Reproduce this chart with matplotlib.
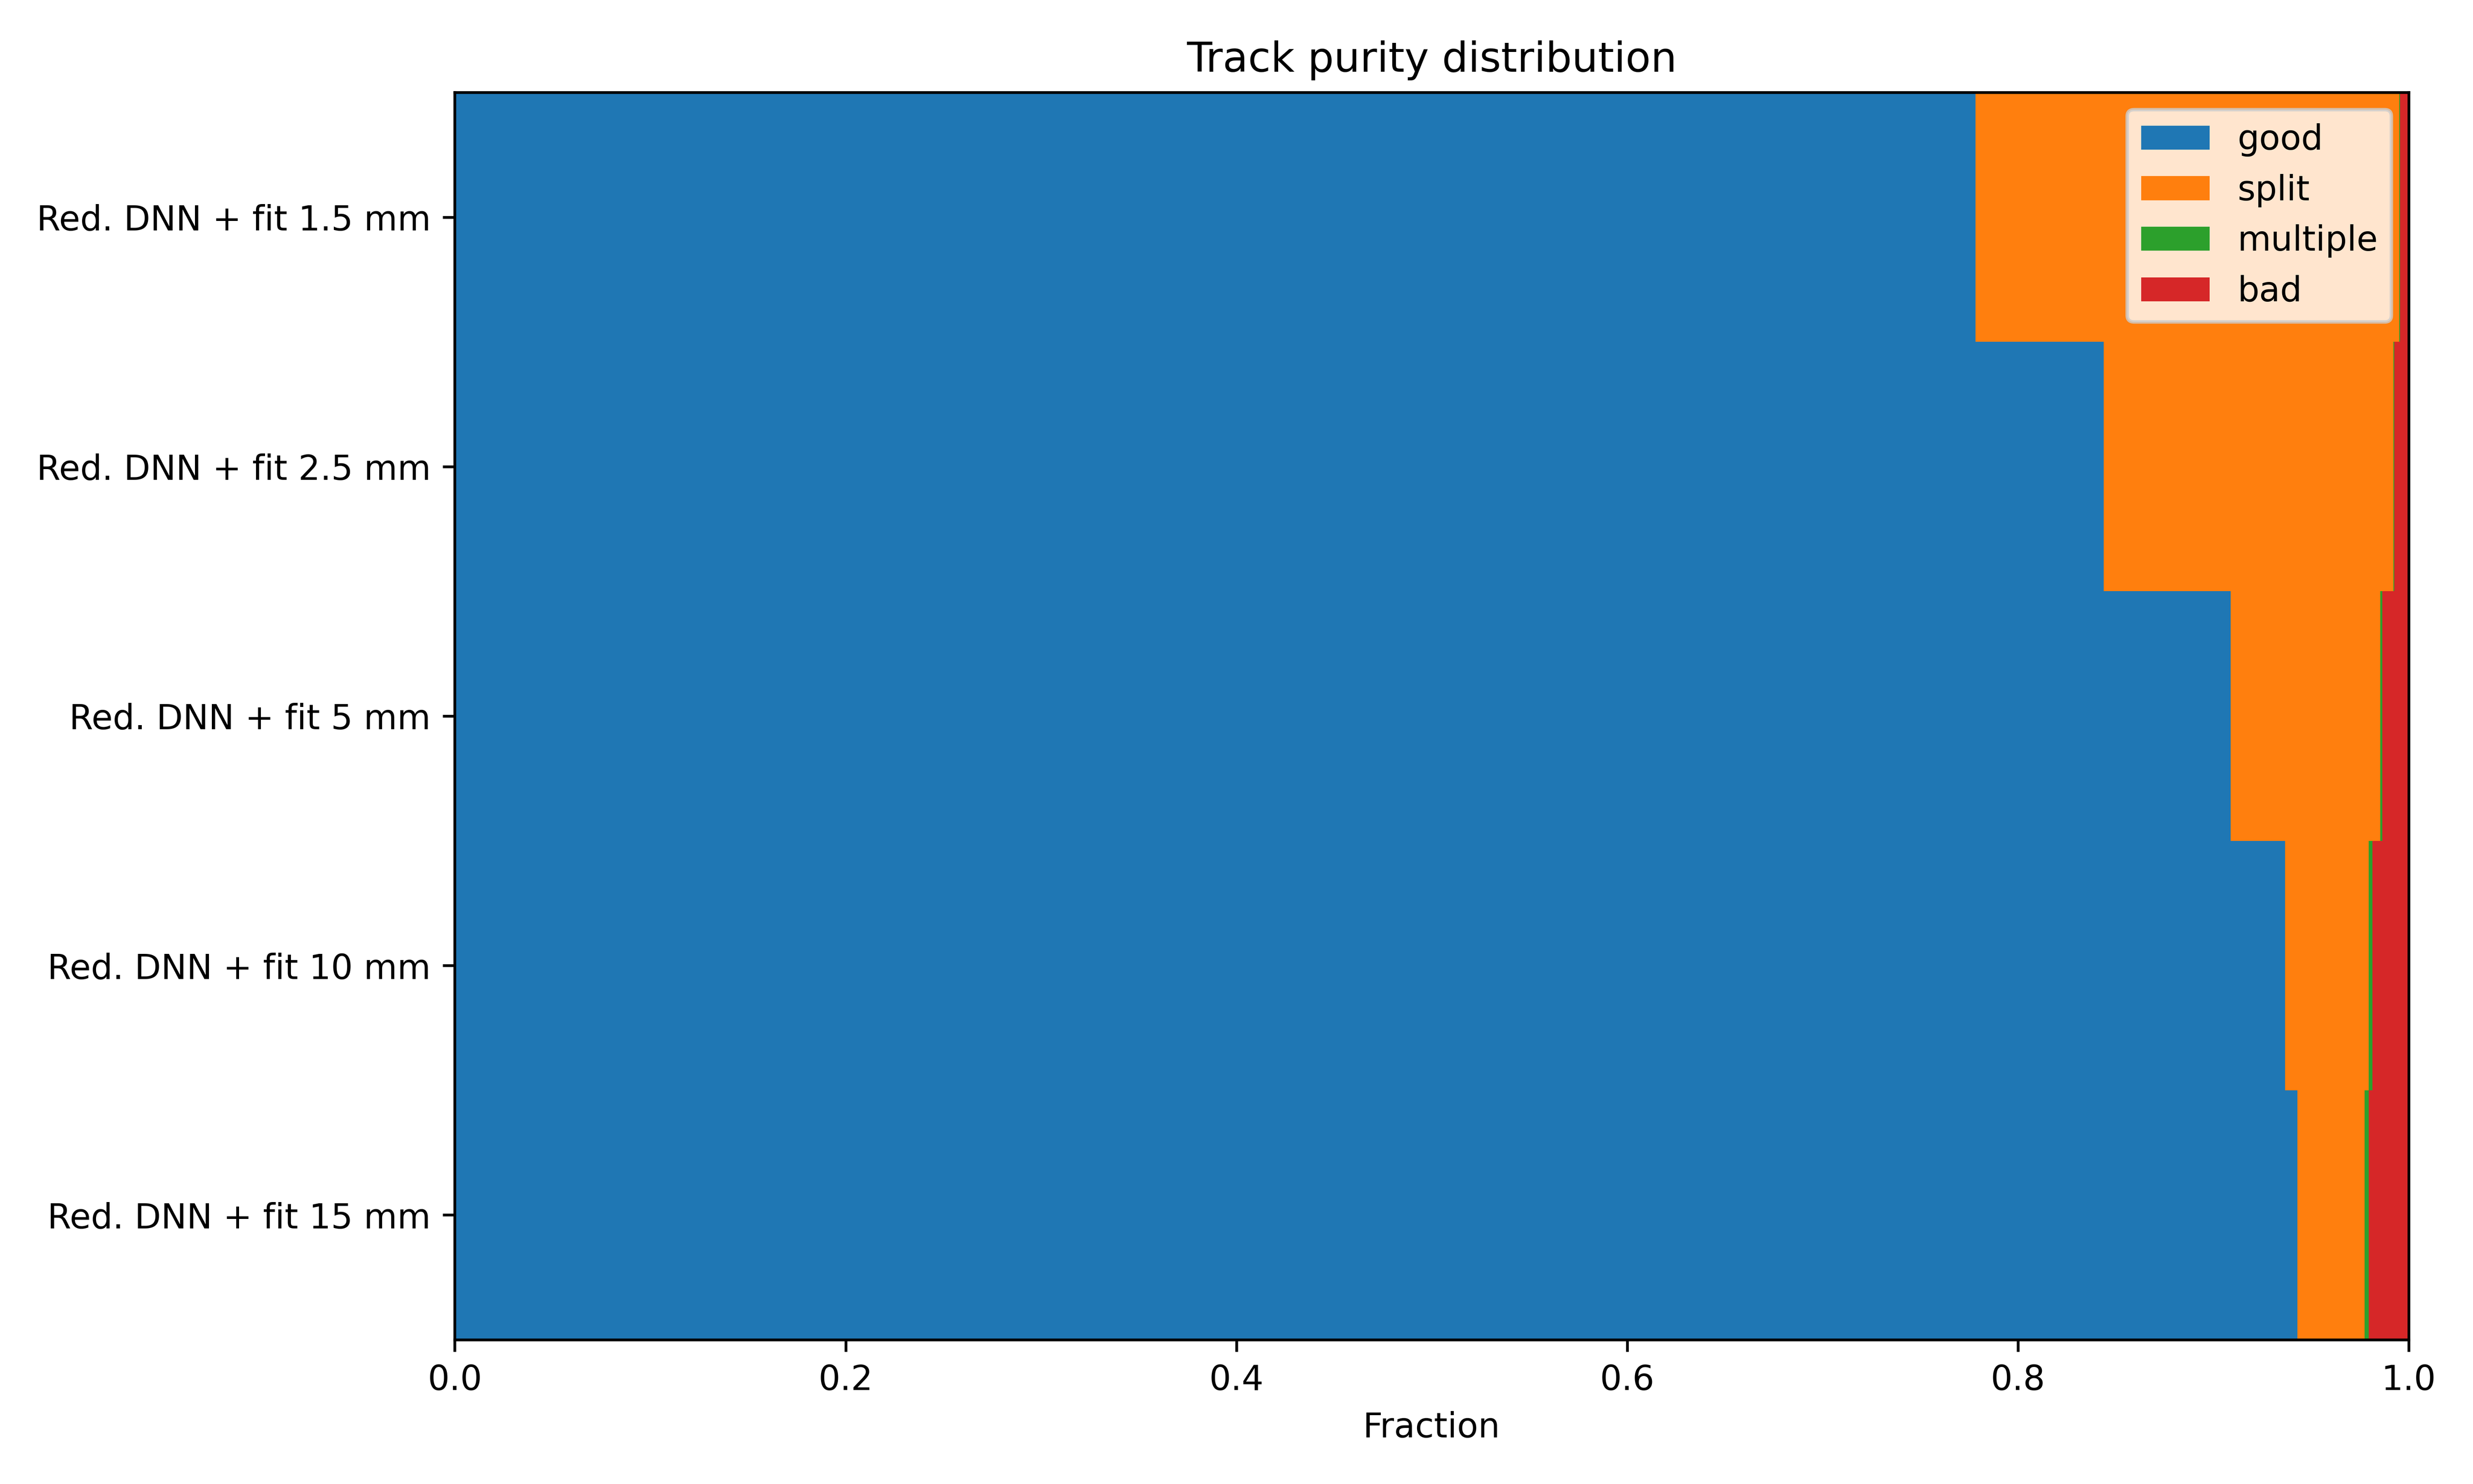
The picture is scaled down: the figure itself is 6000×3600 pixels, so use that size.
import matplotlib
matplotlib.use("Agg")
import matplotlib.pyplot as plt
import numpy as np

categories = ["Red. DNN + fit 15 mm", "Red. DNN + fit 10 mm", "Red. DNN + fit 5 mm",
              "Red. DNN + fit 2.5 mm", "Red. DNN + fit 1.5 mm"]
good = [0.9431, 0.9368, 0.9088, 0.8438, 0.7783]
split = [0.0343, 0.0427, 0.0767, 0.1484, 0.2169]
multiple = [0.0021, 0.0019, 0.0009, 0.0005, 0.0004]
bad = [0.0205, 0.0186, 0.0136, 0.0073, 0.0044]

series = [("good", good), ("split", split), ("multiple", multiple), ("bad", bad)]

fig, ax = plt.subplots(figsize=(10, 6), dpi=600)
y = np.arange(len(categories))
left = np.zeros(len(categories))
for name, vals in series:
    vals = np.array(vals)
    ax.barh(y, vals, left=left, height=1.0, label=name)
    left += vals

ax.set_yticks(y)
ax.set_yticklabels(categories)
ax.set_xlim(0, 1)
ax.set_ylim(-0.5, len(categories) - 0.5)
ax.set_xlabel("Fraction")
ax.set_title("Track purity distribution")
ax.legend(loc="upper right")
fig.subplots_adjust(left=0.1839, right=0.974, bottom=0.0972, top=0.9378)
fig.savefig("out.png", dpi=600)
